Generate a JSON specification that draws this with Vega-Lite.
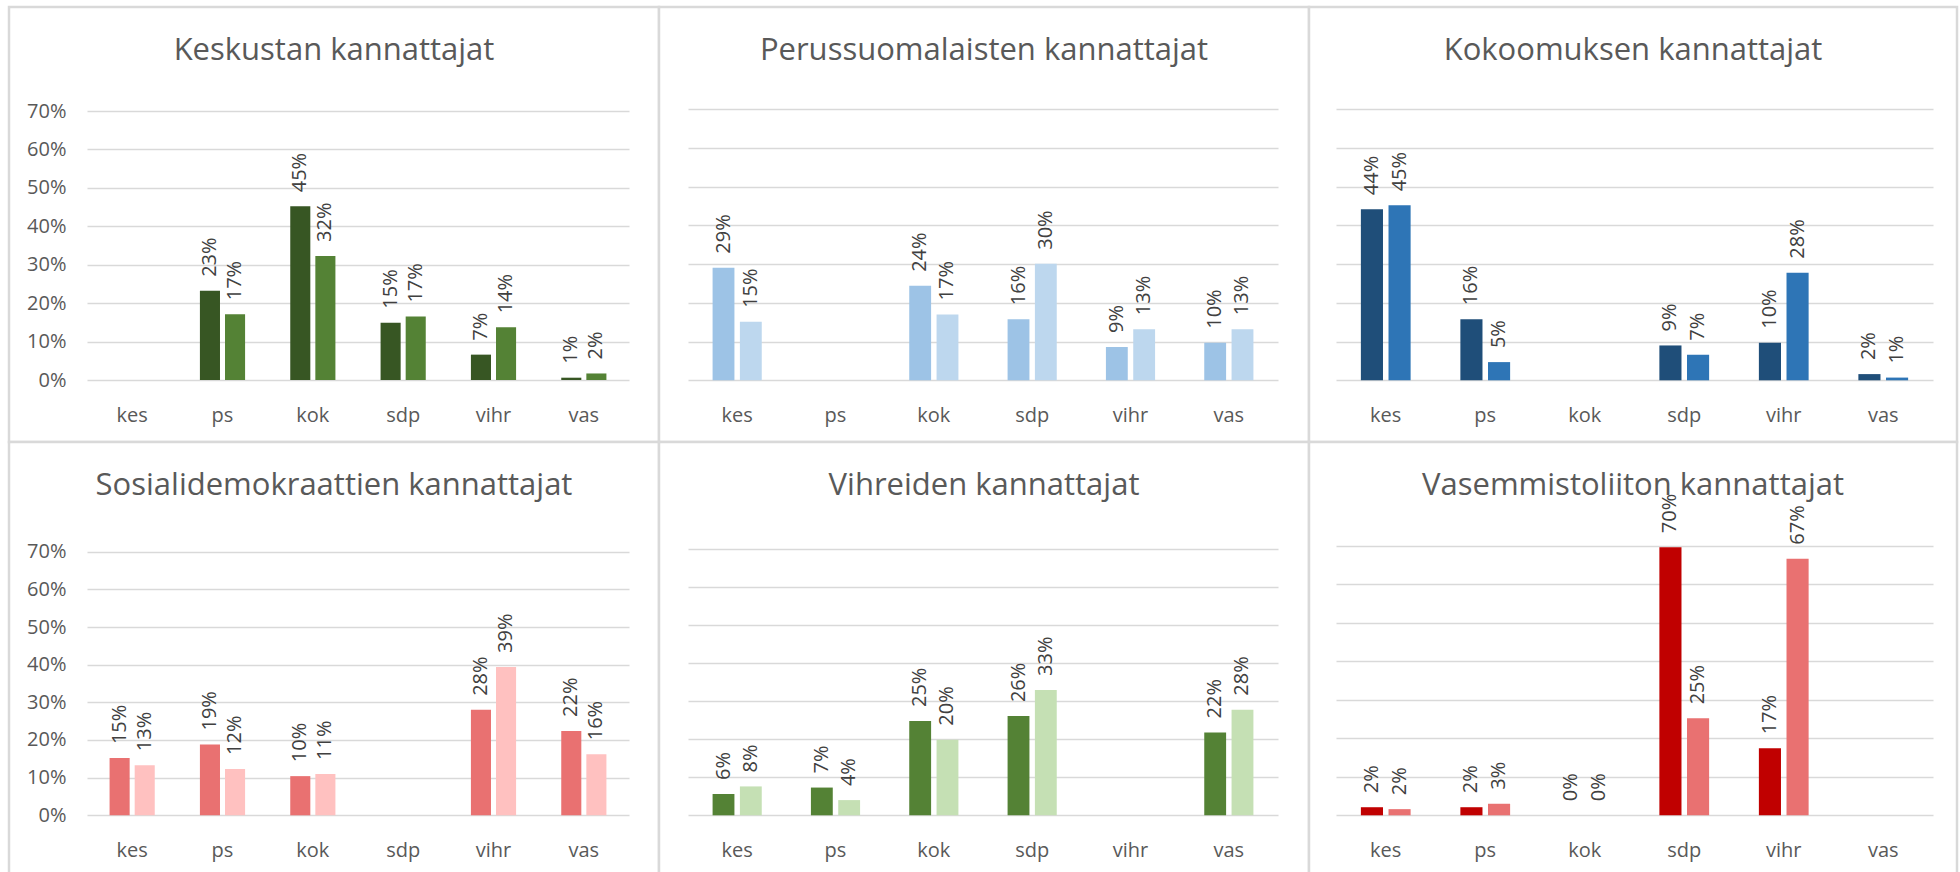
{
  "$schema": "https://vega.github.io/schema/vega-lite/v6.json",
  "autosize": {"type": "pad"},
  "padding": {"left": 7, "top": 5, "right": 0, "bottom": 0},
  "background": "#ffffff",
  "data": {"values": [
    {"ryhma": "kes", "puolue": "ps", "sarja": "1", "osuus": 0.232},
    {"ryhma": "kes", "puolue": "ps", "sarja": "2", "osuus": 0.171},
    {"ryhma": "kes", "puolue": "kok", "sarja": "1", "osuus": 0.452},
    {"ryhma": "kes", "puolue": "kok", "sarja": "2", "osuus": 0.323},
    {"ryhma": "kes", "puolue": "sdp", "sarja": "1", "osuus": 0.149},
    {"ryhma": "kes", "puolue": "sdp", "sarja": "2", "osuus": 0.165},
    {"ryhma": "kes", "puolue": "vihr", "sarja": "1", "osuus": 0.066},
    {"ryhma": "kes", "puolue": "vihr", "sarja": "2", "osuus": 0.137},
    {"ryhma": "kes", "puolue": "vas", "sarja": "1", "osuus": 0.006},
    {"ryhma": "kes", "puolue": "vas", "sarja": "2", "osuus": 0.017},

    {"ryhma": "ps", "puolue": "kes", "sarja": "1", "osuus": 0.291},
    {"ryhma": "ps", "puolue": "kes", "sarja": "2", "osuus": 0.151},
    {"ryhma": "ps", "puolue": "kok", "sarja": "1", "osuus": 0.244},
    {"ryhma": "ps", "puolue": "kok", "sarja": "2", "osuus": 0.170},
    {"ryhma": "ps", "puolue": "sdp", "sarja": "1", "osuus": 0.158},
    {"ryhma": "ps", "puolue": "sdp", "sarja": "2", "osuus": 0.301},
    {"ryhma": "ps", "puolue": "vihr", "sarja": "1", "osuus": 0.086},
    {"ryhma": "ps", "puolue": "vihr", "sarja": "2", "osuus": 0.132},
    {"ryhma": "ps", "puolue": "vas", "sarja": "1", "osuus": 0.097},
    {"ryhma": "ps", "puolue": "vas", "sarja": "2", "osuus": 0.132},

    {"ryhma": "kok", "puolue": "kes", "sarja": "1", "osuus": 0.442},
    {"ryhma": "kok", "puolue": "kes", "sarja": "2", "osuus": 0.452},
    {"ryhma": "kok", "puolue": "ps", "sarja": "1", "osuus": 0.158},
    {"ryhma": "kok", "puolue": "ps", "sarja": "2", "osuus": 0.047},
    {"ryhma": "kok", "puolue": "sdp", "sarja": "1", "osuus": 0.090},
    {"ryhma": "kok", "puolue": "sdp", "sarja": "2", "osuus": 0.066},
    {"ryhma": "kok", "puolue": "vihr", "sarja": "1", "osuus": 0.097},
    {"ryhma": "kok", "puolue": "vihr", "sarja": "2", "osuus": 0.278},
    {"ryhma": "kok", "puolue": "vas", "sarja": "1", "osuus": 0.016},
    {"ryhma": "kok", "puolue": "vas", "sarja": "2", "osuus": 0.007},

    {"ryhma": "sdp", "puolue": "kes", "sarja": "1", "osuus": 0.152},
    {"ryhma": "sdp", "puolue": "kes", "sarja": "2", "osuus": 0.133},
    {"ryhma": "sdp", "puolue": "ps", "sarja": "1", "osuus": 0.188},
    {"ryhma": "sdp", "puolue": "ps", "sarja": "2", "osuus": 0.123},
    {"ryhma": "sdp", "puolue": "kok", "sarja": "1", "osuus": 0.104},
    {"ryhma": "sdp", "puolue": "kok", "sarja": "2", "osuus": 0.110},
    {"ryhma": "sdp", "puolue": "vihr", "sarja": "1", "osuus": 0.280},
    {"ryhma": "sdp", "puolue": "vihr", "sarja": "2", "osuus": 0.394},
    {"ryhma": "sdp", "puolue": "vas", "sarja": "1", "osuus": 0.224},
    {"ryhma": "sdp", "puolue": "vas", "sarja": "2", "osuus": 0.162},

    {"ryhma": "vihr", "puolue": "kes", "sarja": "1", "osuus": 0.056},
    {"ryhma": "vihr", "puolue": "kes", "sarja": "2", "osuus": 0.076},
    {"ryhma": "vihr", "puolue": "ps", "sarja": "1", "osuus": 0.073},
    {"ryhma": "vihr", "puolue": "ps", "sarja": "2", "osuus": 0.040},
    {"ryhma": "vihr", "puolue": "kok", "sarja": "1", "osuus": 0.248},
    {"ryhma": "vihr", "puolue": "kok", "sarja": "2", "osuus": 0.199},
    {"ryhma": "vihr", "puolue": "sdp", "sarja": "1", "osuus": 0.261},
    {"ryhma": "vihr", "puolue": "sdp", "sarja": "2", "osuus": 0.330},
    {"ryhma": "vihr", "puolue": "vas", "sarja": "1", "osuus": 0.218},
    {"ryhma": "vihr", "puolue": "vas", "sarja": "2", "osuus": 0.278},

    {"ryhma": "vas", "puolue": "kes", "sarja": "1", "osuus": 0.021},
    {"ryhma": "vas", "puolue": "kes", "sarja": "2", "osuus": 0.016},
    {"ryhma": "vas", "puolue": "ps", "sarja": "1", "osuus": 0.021},
    {"ryhma": "vas", "puolue": "ps", "sarja": "2", "osuus": 0.030},
    {"ryhma": "vas", "puolue": "kok", "sarja": "1", "osuus": 0.0},
    {"ryhma": "vas", "puolue": "kok", "sarja": "2", "osuus": 0.0},
    {"ryhma": "vas", "puolue": "sdp", "sarja": "1", "osuus": 0.697},
    {"ryhma": "vas", "puolue": "sdp", "sarja": "2", "osuus": 0.252},
    {"ryhma": "vas", "puolue": "vihr", "sarja": "1", "osuus": 0.174},
    {"ryhma": "vas", "puolue": "vihr", "sarja": "2", "osuus": 0.667}
  ]},
  "columns": 3,
  "spacing": 0,
  "bounds": "flush",
  "resolve": {"scale": {"x": "independent", "y": "independent", "xOffset": "independent", "color": "independent"}},
  "concat": [
    {
      "width": 650, "height": 435,
      "title": {"text": "Keskustan kannattajat"},
      "transform": [{"filter": "datum.ryhma == 'kes'"}],
      "encoding": {
        "x": {"field": "puolue", "type": "nominal", "title": null,
              "scale": {"domain": ["kes", "ps", "kok", "sdp", "vihr", "vas"], "range": [78, 620], "paddingInner": 0.5, "paddingOuter": 0.25},
              "axis": {"offset": -62}},
        "xOffset": {"field": "sarja", "type": "nominal", "scale": {"paddingInner": 0.2}},
        "y": {"field": "osuus", "type": "quantitative", "title": null,
              "scale": {"domain": [0, 0.7], "range": [373, 104], "nice": false},
              "axis": {"offset": -78, "labels": true, "values": [0, 0.1, 0.2, 0.3, 0.4, 0.5, 0.6, 0.7]}}
      },
      "layer": [
        {"mark": {"type": "bar"}, "encoding": {"color": {"field": "sarja", "type": "nominal", "legend": null, "scale": {"domain": ["1", "2"], "range": ["#375623", "#548235"]}}}},
        {"mark": {"type": "text", "angle": 270, "align": "left", "baseline": "middle", "dx": 14}, "encoding": {"text": {"field": "osuus", "type": "quantitative", "format": ".0%"}}}
      ]
    },
    {
      "width": 650, "height": 435,
      "title": {"text": "Perussuomalaisten kannattajat"},
      "transform": [{"filter": "datum.ryhma == 'ps'"}],
      "encoding": {
        "x": {"field": "puolue", "type": "nominal", "title": null,
              "scale": {"domain": ["kes", "ps", "kok", "sdp", "vihr", "vas"], "range": [29, 619], "paddingInner": 0.5, "paddingOuter": 0.25},
              "axis": {"offset": -62}},
        "xOffset": {"field": "sarja", "type": "nominal", "scale": {"paddingInner": 0.2}},
        "y": {"field": "osuus", "type": "quantitative", "title": null,
              "scale": {"domain": [0, 0.7], "range": [373.3, 102.3], "nice": false},
              "axis": {"labels": false, "values": [0, 0.1, 0.2, 0.3, 0.4, 0.5, 0.6, 0.7]}}
      },
      "layer": [
        {"mark": {"type": "bar"}, "encoding": {"color": {"field": "sarja", "type": "nominal", "legend": null, "scale": {"domain": ["1", "2"], "range": ["#9DC3E6", "#BDD7EE"]}}}},
        {"mark": {"type": "text", "angle": 270, "align": "left", "baseline": "middle", "dx": 14}, "encoding": {"text": {"field": "osuus", "type": "quantitative", "format": ".0%"}}}
      ]
    },
    {
      "width": 648, "height": 435,
      "title": {"text": "Kokoomuksen kannattajat"},
      "transform": [{"filter": "datum.ryhma == 'kok'"}],
      "encoding": {
        "x": {"field": "puolue", "type": "nominal", "title": null,
              "scale": {"domain": ["kes", "ps", "kok", "sdp", "vihr", "vas"], "range": [27, 624], "paddingInner": 0.5, "paddingOuter": 0.25},
              "axis": {"offset": -62}},
        "xOffset": {"field": "sarja", "type": "nominal", "scale": {"paddingInner": 0.2}},
        "y": {"field": "osuus", "type": "quantitative", "title": null,
              "scale": {"domain": [0, 0.7], "range": [373.3, 102.3], "nice": false},
              "axis": {"labels": false, "values": [0, 0.1, 0.2, 0.3, 0.4, 0.5, 0.6, 0.7]}}
      },
      "layer": [
        {"mark": {"type": "bar"}, "encoding": {"color": {"field": "sarja", "type": "nominal", "legend": null, "scale": {"domain": ["1", "2"], "range": ["#1F4E79", "#2E75B6"]}}}},
        {"mark": {"type": "text", "angle": 270, "align": "left", "baseline": "middle", "dx": 14}, "encoding": {"text": {"field": "osuus", "type": "quantitative", "format": ".0%"}}}
      ]
    },
    {
      "width": 650, "height": 435,
      "title": {"text": "Sosialidemokraattien kannattajat"},
      "transform": [{"filter": "datum.ryhma == 'sdp'"}],
      "encoding": {
        "x": {"field": "puolue", "type": "nominal", "title": null,
              "scale": {"domain": ["kes", "ps", "kok", "sdp", "vihr", "vas"], "range": [78, 620], "paddingInner": 0.5, "paddingOuter": 0.25},
              "axis": {"offset": -62}},
        "xOffset": {"field": "sarja", "type": "nominal", "scale": {"paddingInner": 0.2}},
        "y": {"field": "osuus", "type": "quantitative", "title": null,
              "scale": {"domain": [0, 0.7], "range": [373.3, 109.7], "nice": false},
              "axis": {"offset": -78, "labels": true, "values": [0, 0.1, 0.2, 0.3, 0.4, 0.5, 0.6, 0.7]}}
      },
      "layer": [
        {"mark": {"type": "bar"}, "encoding": {"color": {"field": "sarja", "type": "nominal", "legend": null, "scale": {"domain": ["1", "2"], "range": ["#E97171", "#FFC1C0"]}}}},
        {"mark": {"type": "text", "angle": 270, "align": "left", "baseline": "middle", "dx": 14}, "encoding": {"text": {"field": "osuus", "type": "quantitative", "format": ".0%"}}}
      ]
    },
    {
      "width": 650, "height": 435,
      "title": {"text": "Vihreiden kannattajat"},
      "transform": [{"filter": "datum.ryhma == 'vihr'"}],
      "encoding": {
        "x": {"field": "puolue", "type": "nominal", "title": null,
              "scale": {"domain": ["kes", "ps", "kok", "sdp", "vihr", "vas"], "range": [29, 619], "paddingInner": 0.5, "paddingOuter": 0.25},
              "axis": {"offset": -62}},
        "xOffset": {"field": "sarja", "type": "nominal", "scale": {"paddingInner": 0.2}},
        "y": {"field": "osuus", "type": "quantitative", "title": null,
              "scale": {"domain": [0, 0.7], "range": [373.3, 107.3], "nice": false},
              "axis": {"labels": false, "values": [0, 0.1, 0.2, 0.3, 0.4, 0.5, 0.6, 0.7]}}
      },
      "layer": [
        {"mark": {"type": "bar"}, "encoding": {"color": {"field": "sarja", "type": "nominal", "legend": null, "scale": {"domain": ["1", "2"], "range": ["#548235", "#C5E0B4"]}}}},
        {"mark": {"type": "text", "angle": 270, "align": "left", "baseline": "middle", "dx": 14}, "encoding": {"text": {"field": "osuus", "type": "quantitative", "format": ".0%"}}}
      ]
    },
    {
      "width": 648, "height": 435,
      "title": {"text": "Vasemmistoliiton kannattajat"},
      "transform": [{"filter": "datum.ryhma == 'vas'"}],
      "encoding": {
        "x": {"field": "puolue", "type": "nominal", "title": null,
              "scale": {"domain": ["kes", "ps", "kok", "sdp", "vihr", "vas"], "range": [27, 624], "paddingInner": 0.5, "paddingOuter": 0.25},
              "axis": {"offset": -62}},
        "xOffset": {"field": "sarja", "type": "nominal", "scale": {"paddingInner": 0.2}},
        "y": {"field": "osuus", "type": "quantitative", "title": null,
              "scale": {"domain": [0, 0.7], "range": [373.3, 104], "nice": false},
              "axis": {"labels": false, "values": [0, 0.1, 0.2, 0.3, 0.4, 0.5, 0.6, 0.7]}}
      },
      "layer": [
        {"mark": {"type": "bar"}, "encoding": {"color": {"field": "sarja", "type": "nominal", "legend": null, "scale": {"domain": ["1", "2"], "range": ["#C00000", "#E97171"]}}}},
        {"mark": {"type": "text", "angle": 270, "align": "left", "baseline": "middle", "dx": 14}, "encoding": {"text": {"field": "osuus", "type": "quantitative", "format": ".0%"}}}
      ]
    }
  ],
  "config": {
    "font": "Open Sans",
    "view": {"stroke": "#D9D9D9", "strokeWidth": 2.5, "fill": "#ffffff"},
    "title": {"fontSize": 31, "fontWeight": "normal", "color": "#595959", "anchor": "middle", "frame": "group", "baseline": "alphabetic", "offset": -60},
    "text": {"fontSize": 20, "color": "#404040"},
    "bar": {"stroke": null},
    "axisX": {"domain": false, "ticks": false, "tickSize": 0, "grid": false, "labelFontSize": 20, "labelColor": "#595959", "labelPadding": 41, "labelBaseline": "alphabetic", "labelAngle": 0},
    "axisY": {"domain": false, "ticks": false, "tickSize": 0, "grid": true, "gridColor": "#D9D9D9", "gridWidth": 1.4, "labelFontSize": 20, "labelColor": "#595959", "labelPadding": 21, "format": ".0%", "labelFlush": false}
  }
}
